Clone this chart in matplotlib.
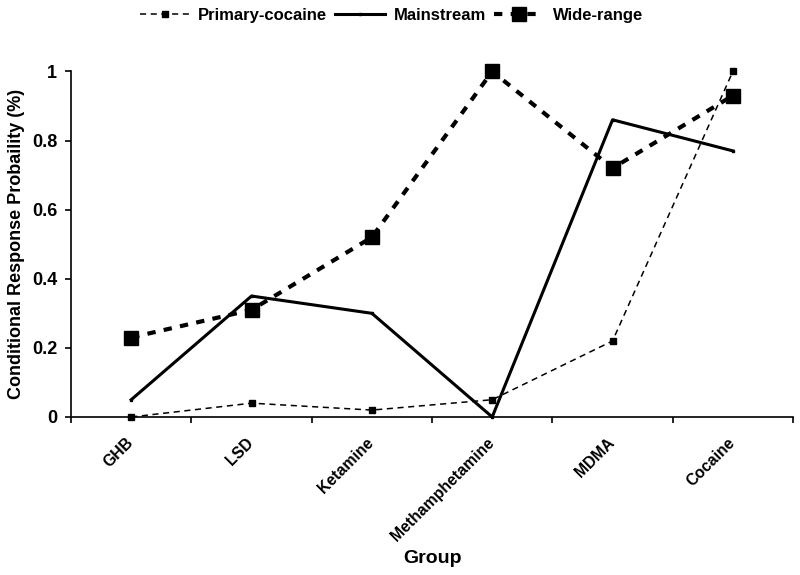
import matplotlib
matplotlib.use("Agg")
import matplotlib.pyplot as plt
import matplotlib.transforms as mtransforms

plt.rcParams['font.family'] = ['Liberation Sans', 'DejaVu Sans']
plt.rcParams['font.weight'] = 'bold'

groups = ["GHB", "LSD", "Ketamine", "Methamphetamine", "MDMA", "Cocaine"]
primary_cocaine = [0.0, 0.04, 0.02, 0.05, 0.22, 1.0]
mainstream = [0.05, 0.35, 0.30, 0.0, 0.86, 0.77]
wide_range = [0.23, 0.31, 0.52, 1.0, 0.72, 0.93]

fig = plt.figure(figsize=(8, 5.75), dpi=100)
ax = fig.add_axes([0.0888, 0.2748, 0.9025, 0.601])

x = list(range(len(groups)))
ax.plot(x, primary_cocaine, color='black', lw=1.1, ls=(0, (4, 3)), marker='s', ms=5,
        label='Primary-cocaine', clip_on=False, zorder=3)
ax.plot(x, mainstream, color='black', lw=2.2, ls='-', marker='s', ms=2,
        label='Mainstream', clip_on=False, zorder=3)
ax.plot(x, wide_range, color='black', lw=3, ls=(0, (2, 2)), marker='s', ms=10,
        label='Wide-range', clip_on=False, zorder=3)

ax.set_xlim(-0.5, len(groups) - 0.5)
ax.set_ylim(0, 1)
ax.set_yticks([0, 0.2, 0.4, 0.6, 0.8, 1.0])
ax.set_yticklabels(['0', '0.2', '0.4', '0.6', '0.8', '1'], fontsize=13, fontweight='bold')
ax.set_xticks(x)
ax.set_xticklabels(groups, rotation=45, ha='right', rotation_mode='anchor', fontsize=11.3, fontweight='bold')
ax.tick_params(axis='x', length=0, pad=13)
offset = mtransforms.ScaledTranslation(-6 / 100, 0, fig.dpi_scale_trans)
for lbl in ax.get_xticklabels():
    lbl.set_transform(lbl.get_transform() + offset)
ax.set_xticks([i - 0.5 for i in range(len(groups) + 1)], minor=True)
ax.tick_params(axis='x', which='minor', length=4, width=1.2, direction='out')
ax.tick_params(axis='y', length=4, width=1.2, direction='out', pad=6)

for s in ['top', 'right']:
    ax.spines[s].set_visible(False)
for s in ['left', 'bottom']:
    ax.spines[s].set_linewidth(1.2)

ax.set_ylabel('Conditional Response Probaility (%)', fontsize=13, fontweight='bold', labelpad=5)
ax.set_xlabel('Group', fontsize=14, fontweight='bold')
ax.xaxis.set_label_coords(0.5, -0.385)

fig.legend(loc='upper center', bbox_to_anchor=(0.489, 1.012), ncol=3, frameon=False,
           handlelength=3, columnspacing=0.5, handletextpad=0.5,
           prop={'weight': 'bold', 'size': 12})

fig.savefig('out.png', dpi=100)
